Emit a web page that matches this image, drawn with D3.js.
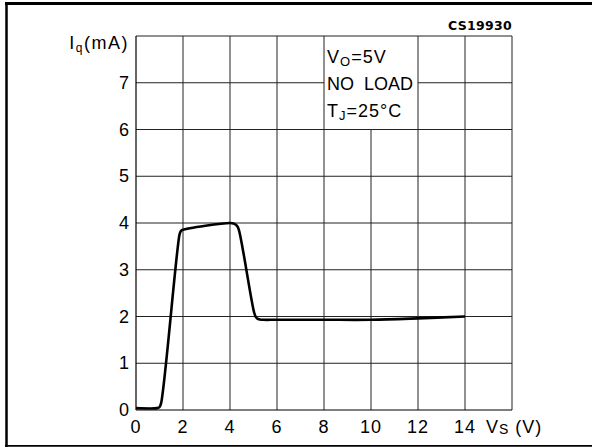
<!DOCTYPE html>
<html>
<head>
<meta charset="utf-8">
<script src="https://cdn.jsdelivr.net/npm/d3@7"></script>
<style>
  body { margin: 0; background: #fff; overflow: hidden; }
  svg { display: block; }
  text { font-family: "Liberation Sans", Arial, sans-serif; fill: #000; }
</style>
</head>
<body>
<div id="chart"></div>
<script>
// dati
const vs = [0, 0.9, 1.0, 1.07, 1.85, 1.9, 1.97, 4.0, 4.15, 4.3, 4.38, 5.02, 5.1, 5.22, 5.4, 6, 8, 10, 12, 14];
const iq = [0.04, 0.04, 0.06, 0.15, 3.75, 3.82, 3.85, 4.0, 3.99, 3.94, 3.85, 2.1, 1.99, 1.94, 1.93, 1.93, 1.93, 1.93, 1.96, 2.0];
const xTicks = [0, 2, 4, 6, 8, 10, 12, 14];
const yTicks = [0, 1, 2, 3, 4, 5, 6, 7];
const noteLines = ["NO  LOAD"];

const width = 592, height = 447;
const svg = d3.select('#chart').append('svg')
    .attr('width', width)
    .attr('height', height);

const x = d3.scaleLinear().domain([0, 16]).range([136, 512]);
const y = d3.scaleLinear().domain([0, 8]).range([410, 36]);

// cornice esterna (solo alto, sinistra, basso)
svg.append('line').attr('x1', 5).attr('x2', width).attr('y1', 3.5).attr('y2', 3.5)
    .attr('stroke', '#000').attr('stroke-width', 3);
svg.append('line').attr('x1', 6.5).attr('x2', 6.5).attr('y1', 2).attr('y2', 447)
    .attr('stroke', '#000').attr('stroke-width', 2.5);
svg.append('line').attr('x1', 5).attr('x2', width).attr('y1', 445.8).attr('y2', 445.8)
    .attr('stroke', '#000').attr('stroke-width', 1.8);

// riquadro note: x 8..12, y 6..8 (griglia nascosta dentro)
const box = { x0: 8, x1: 12, y0: 6, y1: 8 };

const grid = svg.append('g').attr('stroke', '#222').attr('stroke-width', 1);
d3.range(2, 17, 2).forEach(v => {
    if (v > box.x0 && v < box.x1) {
        grid.append('line').attr('x1', x(v)).attr('x2', x(v)).attr('y1', y(0)).attr('y2', y(box.y0));
    } else {
        grid.append('line').attr('x1', x(v)).attr('x2', x(v)).attr('y1', y(0)).attr('y2', y(8));
    }
});
d3.range(1, 9).forEach(v => {
    if (v > box.y0 && v < box.y1) {
        grid.append('line').attr('x1', x(0)).attr('x2', x(box.x0)).attr('y1', y(v)).attr('y2', y(v));
        grid.append('line').attr('x1', x(box.x1)).attr('x2', x(16)).attr('y1', y(v)).attr('y2', y(v));
    } else {
        grid.append('line').attr('x1', x(0)).attr('x2', x(16)).attr('y1', y(v)).attr('y2', y(v));
    }
});

// assi
svg.append('line').attr('x1', x(0)).attr('x2', x(0)).attr('y1', y(0)).attr('y2', y(8))
    .attr('stroke', '#000').attr('stroke-width', 1.2);
svg.append('line').attr('x1', x(0)).attr('x2', x(16)).attr('y1', y(0)).attr('y2', y(0))
    .attr('stroke', '#000').attr('stroke-width', 1.2);

// etichette tick
svg.selectAll('text.xt').data(xTicks).enter().append('text')
    .attr('class', 'xt')
    .attr('x', d => x(d))
    .attr('y', 433)
    .style('font-size', '18px')
    .style('letter-spacing', '1px')
    .style('text-anchor', 'middle')
    .text(d => d);

svg.selectAll('text.yt').data(yTicks).enter().append('text')
    .attr('class', 'yt')
    .attr('x', 129)
    .attr('y', d => y(d) + 6)
    .style('font-size', '18px')
    .style('text-anchor', 'end')
    .text(d => d);

// titoli assi
const yl = svg.append('text').attr('x', 129).attr('y', 49)
    .style('font-size', '18px').style('letter-spacing', '1.5px').style('text-anchor', 'end');
yl.append('tspan').text('I');
yl.append('tspan').attr('dy', 3).style('font-size', '12px').text('q');
yl.append('tspan').attr('dy', -3).text('(mA)');

const xl = svg.append('text').attr('x', 486).attr('y', 433).style('font-size', '18px').style('letter-spacing', '1px');
xl.append('tspan').text('V');
xl.append('tspan').attr('dy', 1).style('font-size', '14px').text('S');
xl.append('tspan').attr('dy', -1).text(' (V)');

svg.append('text').attr('x', 512).attr('y', 30)
    .style('font-family', '"DejaVu Sans", sans-serif')
    .style('font-weight', 'bold')
    .style('font-size', '12.5px')
    .style('letter-spacing', '0.3px')
    .style('text-anchor', 'end')
    .text('CS19930');

// note
const t1 = svg.append('text').attr('x', 327).attr('y', 63).style('font-size', '18px').style('letter-spacing', '1px');
t1.append('tspan').text('V');
t1.append('tspan').attr('dy', 3).style('font-size', '13px').text('O');
t1.append('tspan').attr('dy', -3).text('=5V');

svg.selectAll('text.note').data(noteLines).enter().append('text')
    .attr('class', 'note')
    .attr('x', 327).attr('y', 90)
    .style('font-size', '18px')
    .style('white-space', 'pre')
    .attr('xml:space', 'preserve')
    .text(d => d);

const t3 = svg.append('text').attr('x', 327).attr('y', 117).style('font-size', '18px').style('letter-spacing', '1px');
t3.append('tspan').text('T');
t3.append('tspan').attr('dy', 3).style('font-size', '13px').text('J');
t3.append('tspan').attr('dy', -3).text('=25°C');

// curva
const line = d3.line()
    .x(d => x(d[0]))
    .y(d => y(d[1]))
    .curve(d3.curveCatmullRom.alpha(0.5));

svg.append('path')
    .datum(vs.map((v, i) => [v, iq[i]]))
    .attr('d', line)
    .attr('fill', 'none')
    .attr('stroke', '#000')
    .attr('stroke-width', 2.6)
    .attr('stroke-linejoin', 'round');
</script>
</body>
</html>
